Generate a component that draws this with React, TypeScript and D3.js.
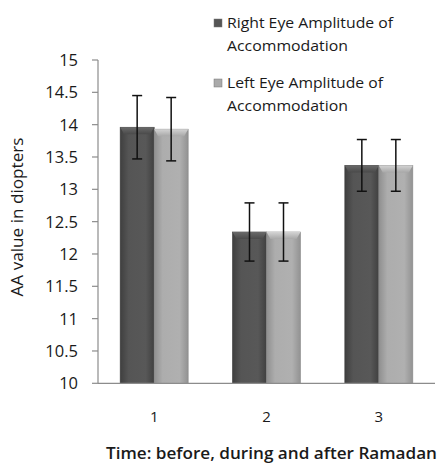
import React from "react";
import * as d3 from "d3";

const categories = ["1", "2", "3"];
const seriesNames = [
  ["Right Eye Amplitude of", "Accommodation"],
  ["Left Eye Amplitude of", "Accommodation"],
];
const rightEye = [13.96, 12.34, 13.37];
const rightErr = [0.49, 0.45, 0.4];
const leftEye = [13.93, 12.34, 13.37];
const leftErr = [0.49, 0.45, 0.4];
const yTicks = [10, 10.5, 11, 11.5, 12, 12.5, 13, 13.5, 14, 14.5, 15];

const W = 439;
const H = 463;
const FONT = "'Open Sans', 'DejaVu Sans', sans-serif";

export default function App() {
  const x = d3.scaleBand<string>().domain(categories).range([98, 435]).padding(0);
  const inner = d3.scaleBand<number>().domain([0, 1]).range([0, 68]).padding(0);
  const y = d3.scaleLinear().domain([10, 15]).range([383.3, 60]);
  const series = [
    { vals: rightEye, errs: rightErr, fill: "url(#gDark)", bevel: "url(#bDark)", stroke: "#3a3a3a" },
    { vals: leftEye, errs: leftErr, fill: "url(#gLight)", bevel: "url(#bLight)", stroke: "#8a8a8a" },
  ];
  const legendColors = ["#555", "#aaa"];

  return (
    <svg width={W} height={H} style={{ position: "absolute", left: 0, top: 0, background: "#fff" }}>
      <defs>
        <linearGradient id="gDark" x1="0" x2="1" y1="0" y2="0">
          <stop offset="0" stopColor="#3f3f3f" />
          <stop offset="0.25" stopColor="#555" />
          <stop offset="0.75" stopColor="#585858" />
          <stop offset="1" stopColor="#404040" />
        </linearGradient>
        <linearGradient id="gLight" x1="0" x2="1" y1="0" y2="0">
          <stop offset="0" stopColor="#8f8f8f" />
          <stop offset="0.25" stopColor="#adadad" />
          <stop offset="0.75" stopColor="#b0b0b0" />
          <stop offset="1" stopColor="#929292" />
        </linearGradient>
        <linearGradient id="bDark" x1="0" x2="0" y1="0" y2="1">
          <stop offset="0" stopColor="#6a6a6a" />
          <stop offset="1" stopColor="#4a4a4a" />
        </linearGradient>
        <linearGradient id="bLight" x1="0" x2="0" y1="0" y2="1">
          <stop offset="0" stopColor="#d4d4d4" />
          <stop offset="1" stopColor="#a8a8a8" />
        </linearGradient>
      </defs>

      {/* bars */}
      {categories.map((c, i) => {
        const gx = (x(c) as number) + x.bandwidth() / 2 - 34;
        return series.map((s, k) => {
          const bx = gx + (inner(k) as number);
          const bw = inner.bandwidth();
          const top = y(s.vals[i]);
          const bottom = y(10);
          const bev = 7;
          return (
            <g key={c + k}>
              <rect x={bx} y={top} width={bw} height={bottom - top} fill={s.fill} stroke={s.stroke} strokeWidth={0.6} />
              <polygon
                points={`${bx},${top} ${bx + bw},${top} ${bx + bw - 4},${top + bev} ${bx + 4},${top + bev}`}
                fill={s.bevel}
              />
            </g>
          );
        });
      })}

      {/* error bars */}
      {categories.map((c, i) => {
        const gx = (x(c) as number) + x.bandwidth() / 2 - 34;
        return series.map((s, k) => {
          const cx = gx + (inner(k) as number) + inner.bandwidth() / 2;
          const hi = y(s.vals[i] + s.errs[i]);
          const lo = y(s.vals[i] - s.errs[i]);
          return (
            <g key={"e" + c + k} stroke="#111" strokeWidth={1.5}>
              <line x1={cx} x2={cx} y1={hi} y2={lo} />
              <line x1={cx - 5} x2={cx + 5} y1={hi} y2={hi} />
              <line x1={cx - 5} x2={cx + 5} y1={lo} y2={lo} />
            </g>
          );
        });
      })}

      {/* y axis */}
      <line x1={98} x2={98} y1={y(15)} y2={y(10)} stroke="#8c8c8c" strokeWidth={1.2} />
      {yTicks.map((t) => (
        <g key={t}>
          <line x1={92} x2={98} y1={y(t)} y2={y(t)} stroke="#8c8c8c" strokeWidth={1.2} />
          <text x={78} y={y(t)} dy="0.36em" textAnchor="end" fontFamily={FONT} fontSize={16.5} fill="#1a1a1a">
            {String(t)}
          </text>
        </g>
      ))}

      {/* x axis */}
      <line x1={98} x2={435} y1={y(10)} y2={y(10)} stroke="#8c8c8c" strokeWidth={1.2} />
      {categories.map((c) => (
        <text key={c} x={(x(c) as number) + x.bandwidth() / 2} y={422} textAnchor="middle" fontFamily={FONT} fontSize={15} fill="#1a1a1a">
          {c}
        </text>
      ))}

      {/* axis titles */}
      <text
        transform={`translate(23,217) rotate(-90)`}
        textAnchor="middle"
        fontFamily={FONT}
        fontSize={15.5}
        fontWeight={500}
        fill="#1a1a1a"
        textLength={159}
        lengthAdjust="spacingAndGlyphs"
      >
        AA value in diopters
      </text>
      <text x={271.5} y={459} textAnchor="middle" fontFamily={FONT} fontSize={16} fontWeight={600} fill="#1a1a1a" textLength={331} lengthAdjust="spacingAndGlyphs">
        Time: before, during and after Ramadan
      </text>

      {/* legend */}
      {seriesNames.map((lines, k) => {
        const baseY = 28 + k * 60;
        return (
          <g key={k}>
            <rect x={214} y={baseY - 9} width={8} height={8} fill={legendColors[k]} stroke="#777" strokeWidth={0.5} />
            <text x={227} y={baseY} fontFamily={FONT} fontSize={14.5} fill="#1a1a1a" textLength={k === 0 ? 166 : 156} lengthAdjust="spacingAndGlyphs">
              {lines[0]}
            </text>
            <text x={227} y={baseY + 22.5} fontFamily={FONT} fontSize={14.5} fill="#1a1a1a" textLength={121} lengthAdjust="spacingAndGlyphs">
              {lines[1]}
            </text>
          </g>
        );
      })}
    </svg>
  );
}
